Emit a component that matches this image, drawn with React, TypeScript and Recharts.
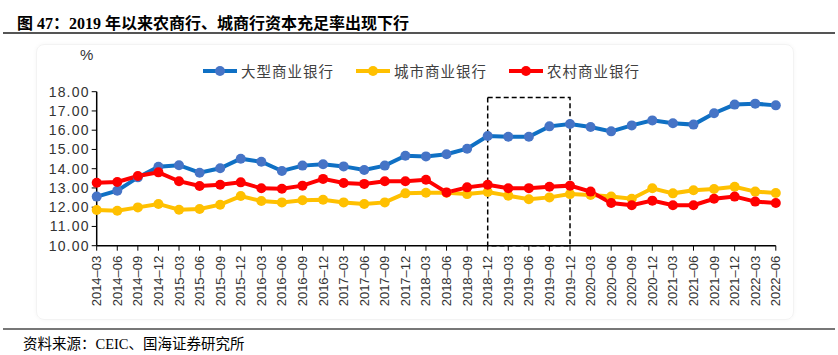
import { LineChart, Line, XAxis, YAxis, ReferenceArea } from 'recharts'

const quarters = [
  '2014-03', '2014-06', '2014-09', '2014-12', '2015-03', '2015-06', '2015-09', '2015-12',
  '2016-03', '2016-06', '2016-09', '2016-12', '2017-03', '2017-06', '2017-09', '2017-12',
  '2018-03', '2018-06', '2018-09', '2018-12', '2019-03', '2019-06', '2019-09', '2019-12',
  '2020-03', '2020-06', '2020-09', '2020-12', '2021-03', '2021-06', '2021-09', '2021-12',
  '2022-03', '2022-06',
]

// 大型商业银行
const largeBanks = [
  12.55, 12.86, 13.55, 14.1, 14.18, 13.79, 14.02, 14.52,
  14.36, 13.88, 14.16, 14.23, 14.12, 13.93, 14.16, 14.67,
  14.64, 14.75, 15.04, 15.7, 15.66, 15.66, 16.2, 16.32,
  16.17, 15.94, 16.25, 16.51, 16.36, 16.29, 16.88, 17.33,
  17.38, 17.29,
]

// 城市商业银行
const cityBanks = [
  11.85, 11.82, 11.99, 12.17, 11.87, 11.91, 12.13, 12.58,
  12.32, 12.25, 12.36, 12.39, 12.25, 12.17, 12.25, 12.72,
  12.75, 12.75, 12.68, 12.79, 12.6, 12.41, 12.51, 12.68,
  12.63, 12.55, 12.44, 12.98, 12.72, 12.88, 12.95, 13.06,
  12.81, 12.74,
]

// 农村商业银行
const ruralBanks = [
  13.27, 13.31, 13.62, 13.81, 13.35, 13.1, 13.17, 13.29,
  12.98, 12.96, 13.12, 13.47, 13.26, 13.21, 13.35, 13.35,
  13.43, 12.77, 13.03, 13.17, 12.98, 12.99, 13.06, 13.12,
  12.81, 12.22, 12.1, 12.34, 12.1, 12.1, 12.44, 12.55,
  12.29, 12.22,
]

const yTicks = [10, 11, 12, 13, 14, 15, 16, 17, 18]

const SERIES = [
  { key: 'large', name: '大型商业银行', color: '#0f70c4', dot: '#4674c6' },
  { key: 'city', name: '城市商业银行', color: '#ffc000', dot: '#ffc000' },
  { key: 'rural', name: '农村商业银行', color: '#ff0000', dot: '#ff0000' },
]

const data = quarters.map((q, i) => ({
  q,
  large: largeBanks[i],
  city: cityBanks[i],
  rural: ruralBanks[i],
}))

const CJK = '"Liberation Sans", Arial, "Noto Sans CJK SC", sans-serif'
const SERIF = '"Liberation Serif", "Times New Roman", "Noto Sans CJK SC", serif'

function XTick(props: any) {
  const { x, y, payload } = props
  return (
    <text
      transform={`translate(${x},${y + 3}) rotate(-90)`}
      textAnchor="end"
      dominantBaseline="central"
      fontSize={13}
      fill="#333"
      fontFamily={CJK}
    >
      {String(payload.value).replace('-', '–')}
    </text>
  )
}

export default function App() {
  return (
    <div style={{ position: 'absolute', left: 0, top: 0, width: 838, height: 355, background: '#fff', overflow: 'hidden' }}>
      {/* 标题 */}
      <div style={{ position: 'absolute', left: 17, top: 10, fontFamily: SERIF, fontWeight: 'bold', fontSize: 16, color: '#000', whiteSpace: 'nowrap' }}>
        图 47：2019 年以来农商行、城商行资本充足率出现下行
      </div>
      <div style={{ position: 'absolute', left: 3, right: 3, top: 32, height: 1.5, background: '#555' }} />

      {/* 图表底框 */}
      <div style={{ position: 'absolute', left: 36, top: 44, width: 756, height: 274, border: '1px solid #f3f3f3', borderRadius: 8, boxShadow: '0 0 4px rgba(0,0,0,0.04)' }} />

      <div style={{ position: 'absolute', left: 80, top: 46, fontSize: 15, fontFamily: CJK, color: '#333' }}>%</div>

      {/* 图例 */}
      <div style={{ position: 'absolute', left: 203, top: 60, display: 'flex', alignItems: 'center', fontFamily: CJK, fontSize: 14.5, color: '#404040' }}>
        {SERIES.map(s => (
          <div key={s.key} style={{ display: 'flex', alignItems: 'center', marginRight: 22 }}>
            <svg width={36} height={20}>
              <line x1={0} y1={10} x2={34} y2={10} stroke={s.color} strokeWidth={4} />
              <circle cx={17} cy={10} r={5} fill={s.dot} />
            </svg>
            <span style={{ marginLeft: 2, letterSpacing: 1 }}>{s.name}</span>
          </div>
        ))}
      </div>

      <div style={{ position: 'absolute', left: 0, top: 0 }}>
        <LineChart width={838} height={355} data={data} margin={{ top: 91.7, right: 62.2, bottom: 47.3, left: 36 }}>
          <XAxis
            dataKey="q"
            interval={0}
            height={62}
            tick={<XTick />}
            axisLine={{ stroke: '#000', strokeWidth: 1.5 }}
            tickLine={{ stroke: '#000' }}
            tickSize={5}
          />
          <YAxis
            domain={[10, 18]}
            ticks={yTicks}
            interval={0}
            width={60.7}
            tickFormatter={v => Number(v).toFixed(2)}
            tick={{ fontSize: 14, fill: '#333', fontFamily: CJK, letterSpacing: 1.2 }}
            axisLine={{ stroke: '#000', strokeWidth: 1.5 }}
            tickLine={{ stroke: '#000' }}
            tickSize={5}
          />
          {SERIES.map(s => (
            <Line
              key={s.key}
              dataKey={s.key}
              name={s.name}
              type="linear"
              stroke={s.color}
              strokeWidth={4}
              dot={{ r: 5, fill: s.dot, stroke: s.dot, strokeWidth: 0 }}
              isAnimationActive={false}
            />
          ))}
          <ReferenceArea
            x1="2018-12"
            x2="2019-12"
            y1={10}
            y2={17.7}
            fill="none"
            fillOpacity={0}
            stroke="#000"
            strokeWidth={1.5}
            strokeDasharray="5 3"
            ifOverflow="visible"
          />
        </LineChart>
      </div>

      {/* 资料来源 */}
      <div style={{ position: 'absolute', left: 3, right: 3, top: 328, height: 1.5, background: '#777' }} />
      <div style={{ position: 'absolute', left: 23, top: 332, fontFamily: SERIF, fontSize: 14.5, color: '#000', whiteSpace: 'nowrap' }}>
        资料来源：CEIC、国海证券研究所
      </div>
    </div>
  )
}
